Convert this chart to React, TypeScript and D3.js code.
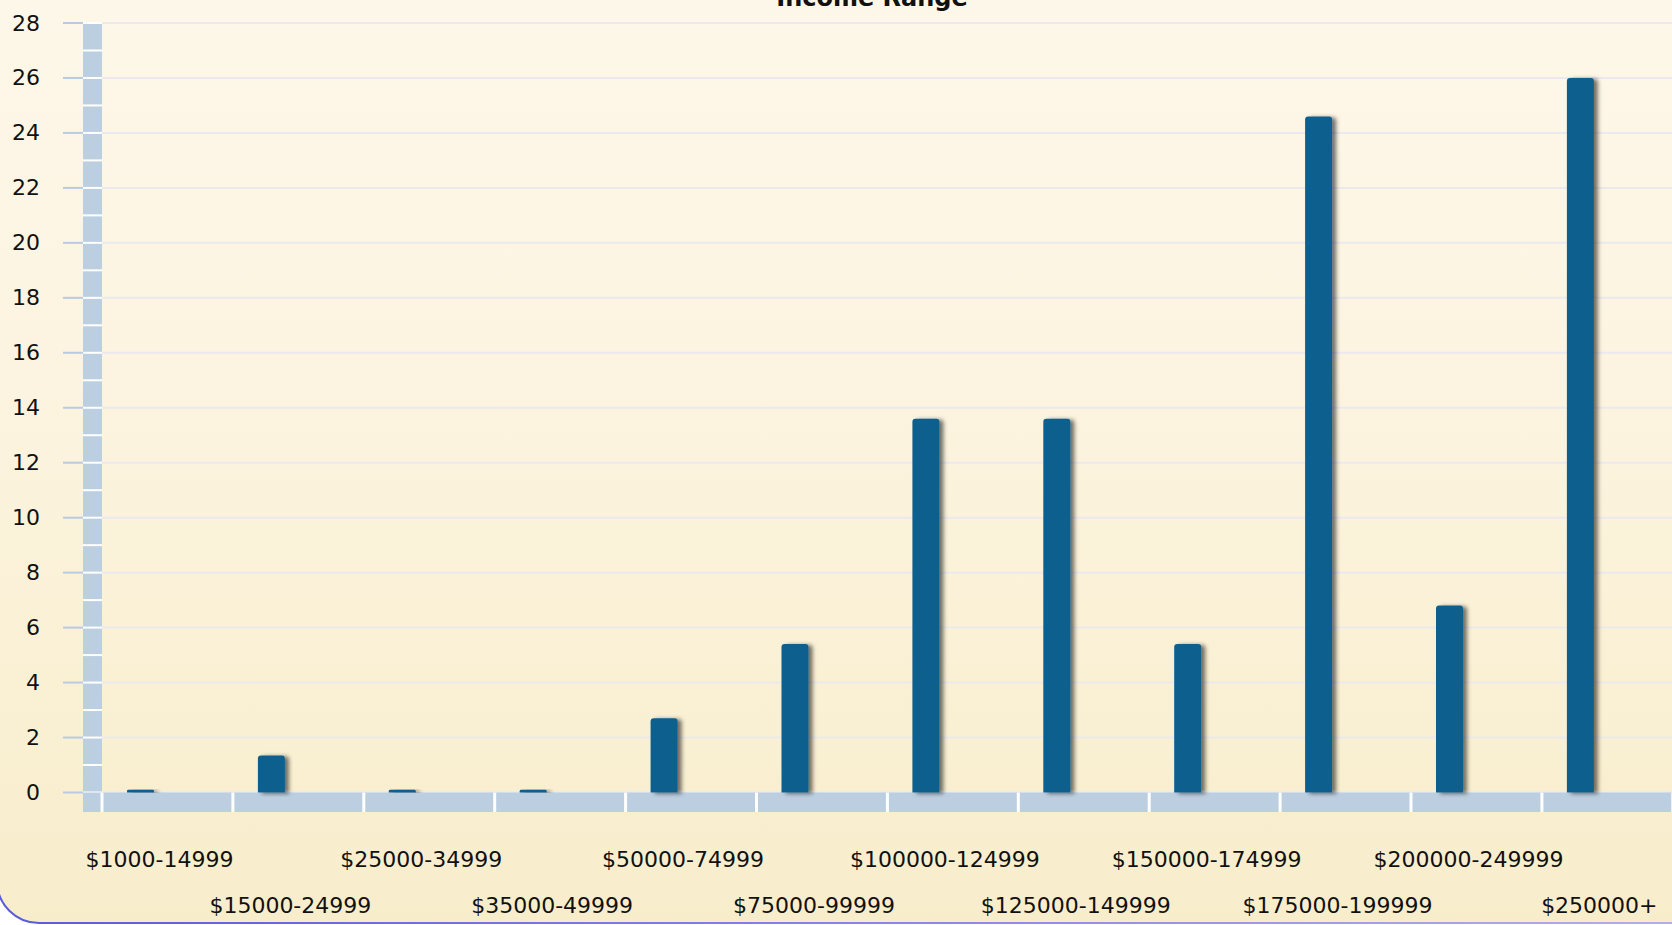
import React from "react";
import * as d3 from "d3";

const categories = [
  "$1000-14999", "$15000-24999", "$25000-34999", "$35000-49999",
  "$50000-74999", "$75000-99999", "$100000-124999", "$125000-149999",
  "$150000-174999", "$175000-199999", "$200000-249999", "$250000+",
];
const values = [0.1, 1.35, 0.1, 0.1, 2.7, 5.4, 13.6, 13.6, 5.4, 24.6, 6.8, 26.0];
const yTicks = [0, 2, 4, 6, 8, 10, 12, 14, 16, 18, 20, 22, 24, 26, 28];
const yUnits = d3.range(0, 29);
const title = "Income Range";

const W = 1672, H = 925;

export default function App() {
  const x = d3.scaleBand<string>().domain(categories).range([102, 102 + 130.9 * 12]).padding(0);
  const y = d3.scaleLinear().domain([0, 28]).range([792.5, 23]);
  const bw = x.bandwidth();
  const wallL = 83, wallR = 102;
  const floorTop = y(0), floorBot = 812;
  const font = "'DejaVu Sans', Verdana, sans-serif";

  return (
    <svg width={W} height={H} style={{ position: "absolute", left: 0, top: 0, background: "#fff" }}>
      <defs>
        <linearGradient id="bg" x1="0" y1="0" x2="0" y2="1">
          <stop offset="0" stopColor="#fef8eb" />
          <stop offset="0.45" stopColor="#fcf4e0" />
          <stop offset="1" stopColor="#f8edcb" />
        </linearGradient>
        <linearGradient id="border" x1="0" y1="0" x2="1" y2="0">
          <stop offset="0" stopColor="#5a5ae0" />
          <stop offset="1" stopColor="#b4b0ee" />
        </linearGradient>
        <filter id="shadow" x="-50%" y="-10%" width="200%" height="120%">
          <feDropShadow dx="4" dy="1" stdDeviation="2" floodColor="#000" floodOpacity="0.55" />
        </filter>
      </defs>
      <rect x={-3} y={-60} width={W + 60} height={H + 60 - 2} rx={42} ry={42}
        fill="url(#bg)" stroke="url(#border)" strokeWidth={2} />

      {/* title */}
      <text x={872} y={6} textAnchor="middle" fontFamily={font} fontWeight="bold" fontSize={24} fill="#111">{title}</text>

      {/* gridlines */}
      {yTicks.map((t) => (
        <line key={"g" + t} x1={wallL} x2={W} y1={y(t)} y2={y(t)} stroke="#ebe9ee" strokeWidth={2} />
      ))}

      {/* wall */}
      <rect x={wallL} y={y(28)} width={wallR - wallL} height={floorBot - y(28)} fill="#bccfe0" />
      {yUnits.map((u) => (
        <line key={"w" + u} x1={wallL} x2={wallR} y1={y(u)} y2={y(u)} stroke="#fff" strokeWidth={2} />
      ))}

      {/* floor */}
      <rect x={wallL} y={floorTop} width={W - wallL} height={floorBot - floorTop} fill="#bccfe0" />
      {[...categories.map((c) => x(c)!), 102 + 130.9 * 12].map((px, i) => (
        <line key={"f" + i} x1={px} x2={px} y1={floorTop} y2={floorBot} stroke="#fff" strokeWidth={3} />
      ))}

      {/* y ticks and labels */}
      {yTicks.map((t) => (
        <g key={"t" + t}>
          <line x1={63} x2={wallL} y1={y(t)} y2={y(t)} stroke="#b8cbe0" strokeWidth={2} />
          <text x={40} y={y(t) + 7.5} textAnchor="end" fontFamily={font} fontSize={22} fill="#111">{t}</text>
        </g>
      ))}

      {/* bars */}
      {categories.map((c, i) => {
        const bx = x(c)! + 25;
        const top = y(values[i]);
        const h = y(0) - top;
        const r = Math.min(3, h / 2);
        const path = `M${bx},${y(0)} L${bx},${top + r} Q${bx},${top} ${bx + r},${top} L${bx + 27 - r},${top} Q${bx + 27},${top} ${bx + 27},${top + r} L${bx + 27},${y(0)} Z`;
        return <path key={"b" + i} d={path} fill="#10608e" filter="url(#shadow)" />;
      })}

      {/* x labels */}
      {categories.map((c, i) => (
        <text key={"x" + i} x={x(c)! + bw / 2 - 8} y={i % 2 === 0 ? 867 : 912.5}
          textAnchor="middle" fontFamily={font} fontSize={22} fill="#111">{c}</text>
      ))}
    </svg>
  );
}
